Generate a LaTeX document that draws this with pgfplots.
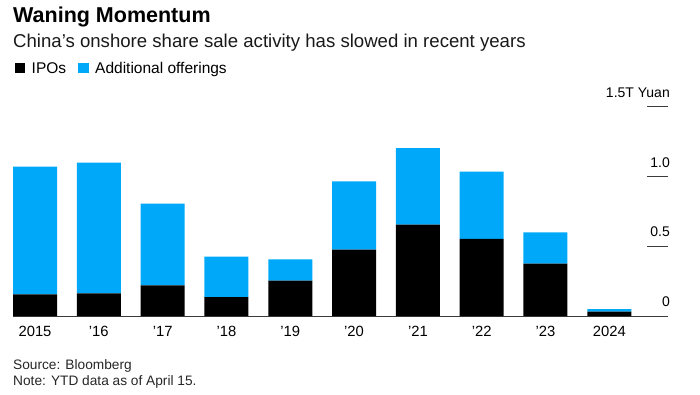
\documentclass[border=0pt]{standalone}
\usepackage{fontspec}
\setmainfont{Liberation Sans}
\usepackage{pgfplots}
\pgfplotsset{compat=1.18}
\definecolor{bblue}{RGB}{0,168,250}
\definecolor{axgray}{RGB}{60,60,60}
\begin{document}
\begin{tikzpicture}
\useasboundingbox (0pt,0pt) rectangle (700pt,-394pt);
\node[anchor=base west,inner sep=0,font=\fontsize{21.5}{24}\selectfont\bfseries] at (13pt,-22pt) {Waning Momentum};
\node[anchor=base west,inner sep=0,font=\fontsize{18.6}{21}\selectfont,text=black!90] at (13pt,-47pt) {China's onshore share sale activity has slowed in recent years};
\fill[black] (15pt,-63pt) rectangle (25pt,-73pt);
\node[anchor=base west,inner sep=0,font=\fontsize{15.5}{18}\selectfont] at (31.5pt,-73pt) {IPOs};
\fill[bblue] (78pt,-63pt) rectangle (89pt,-73pt);
\node[anchor=base west,inner sep=0,font=\fontsize{15.5}{18}\selectfont] at (95pt,-73pt) {Additional offerings};
\node[anchor=base west,inner sep=0,font=\fontsize{13.7}{16}\selectfont,text=black!85] at (13pt,-369pt) {Source: Bloomberg};
\node[anchor=base west,inner sep=0,font=\fontsize{13.7}{16}\selectfont,text=black!85] at (13pt,-385pt) {Note: YTD data as of April 15.};
\begin{axis}[
  at={(13pt,-316pt)}, anchor=south west,
  scale only axis, width=655pt, height=209.3pt,
  ybar stacked, bar width=44pt,
  xmin=-0.345, xmax=9.92, ymin=0, ymax=1.5,
  axis x line*=bottom, axis y line*=right,
  x axis line style={draw=axgray, line width=0.9pt, -},
  y axis line style={draw=none},
  xtick={0,...,9},
  xticklabels={2015,'16,'17,'18,'19,'20,'21,'22,'23,2024},
  xtick style={draw=none},
  ytick={0,0.5,1.0,1.5},
  yticklabels={0,0.5,1.0,1.5T Yuan},
  tick align=inside,
  ytick style={draw=axgray, line width=0.9pt},
  major tick length=21pt,
  /pgf/number format/assume math mode=true,
  xticklabel style={font=\fontsize{14.8}{17}\selectfont, anchor=north, inner sep=0pt, yshift=-10pt},
  yticklabel style={font=\fontsize{14}{17}\selectfont, anchor=south east, inner sep=0pt, xshift=2pt, yshift=9pt},
  clip=false,
]
\addplot[fill=black, draw=none] coordinates {(0,0.155) (1,0.162) (2,0.220) (3,0.136) (4,0.253) (5,0.476) (6,0.655) (7,0.553) (8,0.376) (9,0.031)};
\addplot[fill=bblue, draw=none] coordinates {(0,0.915) (1,0.938) (2,0.585) (3,0.290) (4,0.152) (5,0.488) (6,0.548) (7,0.481) (8,0.224) (9,0.019)};
\end{axis}
\end{tikzpicture}
\end{document}
